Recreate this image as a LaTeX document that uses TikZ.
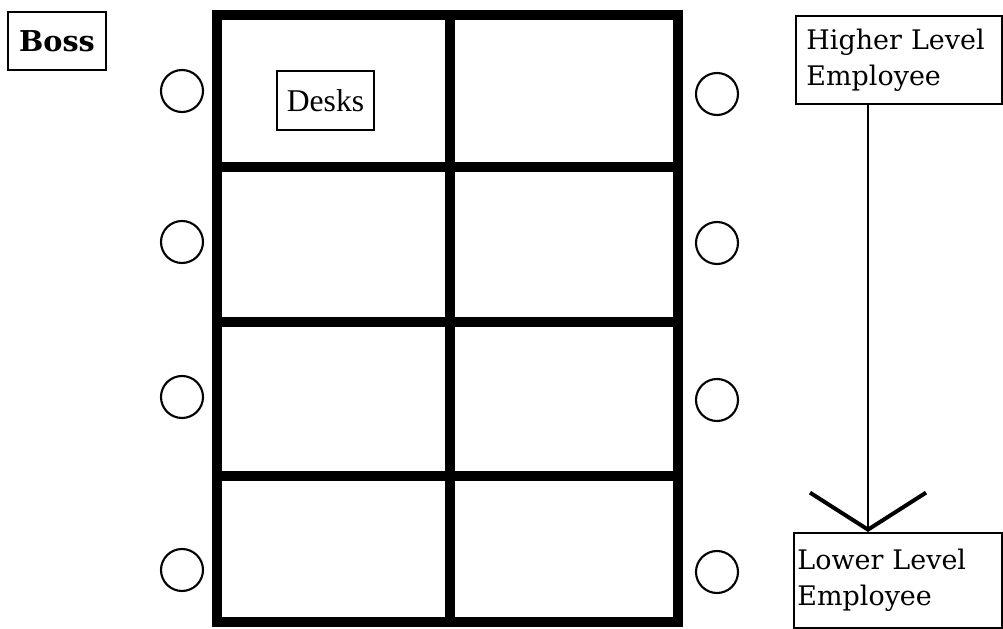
\documentclass[tikz,border=0pt]{standalone}
\usepackage{fontspec}
\newfontfamily\planfont{DejaVu Serif}
\newfontfamily\deskfont{Liberation Serif}
\usetikzlibrary{arrows.meta,positioning}

\begin{document}
\begin{tikzpicture}[x=0.03cm,y=-0.03cm,
    label box/.style={draw,line width=1.6pt,inner sep=0pt},
    chair/.style={draw,circle,line width=1.8pt,minimum size=1.26cm,inner sep=0pt},
    wall/.style={line width=9pt},
    rank/.style={label box,anchor=north west,align=left,inner ysep=0pt,
      font=\planfont\fontsize{23}{31}\selectfont}]
  \useasboundingbox (0,0) rectangle (1003,629);
  % Desk block
  \draw[wall] (217,15) rectangle (678,622);
  \draw[wall] (450,15) -- (450,622);
  \foreach \y in {167,322,476}
    \draw[wall] (217,\y) -- (678,\y);
  % Chairs on both sides
  \foreach \y [count=\i] in {91,242,397,570}
    \node[chair] (chairL\i) at (182,\y) {};
  \foreach \y [count=\i] in {94,243,400,572}
    \node[chair] (chairR\i) at (717,\y) {};
  % Labels
  \node[label box,minimum width=2.94cm,minimum height=1.74cm,
    font=\planfont\bfseries\fontsize{24.5}{28}\selectfont] (boss) at (57,41) {Boss};
  \node[label box,line width=1.4pt,minimum width=2.91cm,minimum height=1.77cm,
    font=\deskfont\fontsize{27}{30}\selectfont] (desks) at (325.5,100.5) {Desks};
  % Hierarchy
  \node[rank,inner xsep=9pt,text width=5.55cm,minimum height=2.64cm]
    (higher) at (795,15) {Higher Level\\Employee};
  \node[rank,inner xsep=3pt,text width=6.03cm,minimum height=2.85cm]
    (lower) at (793,532) {Lower Level\\Employee};
  \coordinate (stem) at (868,0);
  \draw[line width=1.2pt,-{Straight Barb[length=1.11cm,width=3.48cm,line width=3.4pt]}]
    (higher.south -| stem) -- (lower.north -| stem);
\end{tikzpicture}
\end{document}
